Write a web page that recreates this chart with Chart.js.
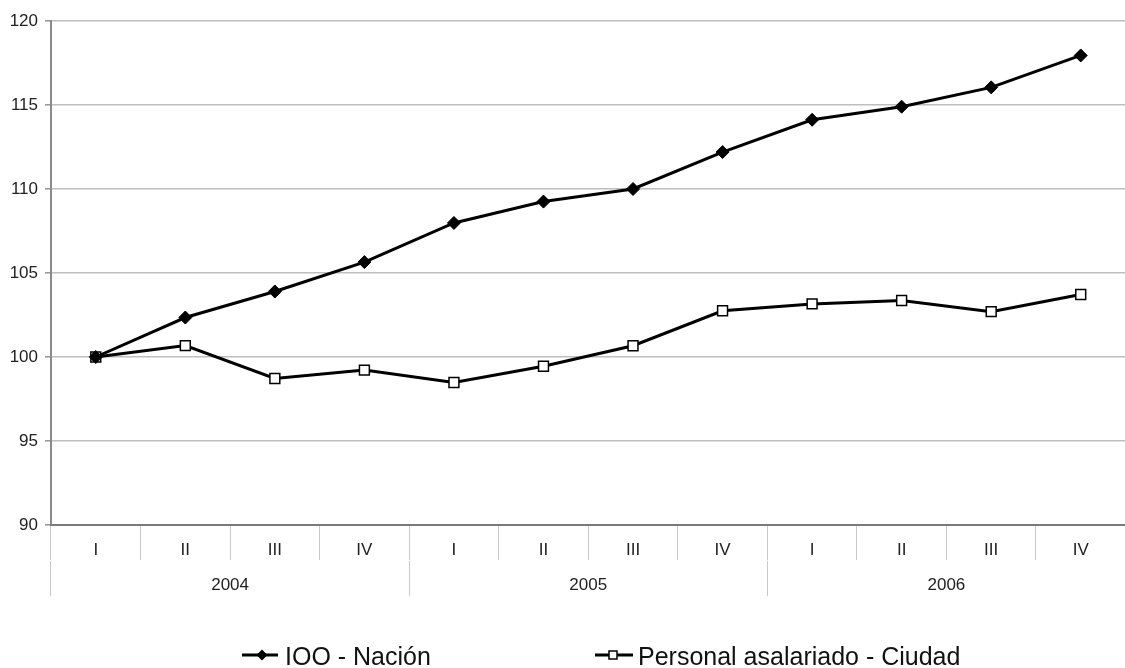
<!DOCTYPE html>
<html>
<head>
<meta charset="utf-8">
<script src="https://cdn.jsdelivr.net/npm/chart.js@4/dist/chart.umd.min.js"></script>
<style>
html,body{margin:0;padding:0;overflow:hidden;background:#fff;width:1125px;height:668px;}
#wrap{position:absolute;left:0;top:0;width:1134px;height:668px;}
.leg{position:absolute;font-family:"Liberation Sans",Arial,sans-serif;font-size:25px;line-height:30px;color:#111;white-space:nowrap;}
.legsvg{position:absolute;}
</style>
</head>
<body>
<div id="wrap"><canvas id="c" width="1134" height="668"></canvas></div>
<svg class="legsvg" style="left:240px;top:645px" width="42" height="20">
  <line x1="2" y1="10" x2="38" y2="10" stroke="#000" stroke-width="3"/>
  <polygon points="22,4.5 27.5,10 22,15.5 16.5,10" fill="#000"/>
</svg>
<div class="leg" style="left:285px;top:641px">IOO - Nación</div>
<svg class="legsvg" style="left:593px;top:645px" width="44" height="20">
  <line x1="2" y1="10" x2="40" y2="10" stroke="#000" stroke-width="3"/>
  <rect x="16" y="6" width="8" height="8" fill="#fff" stroke="#000" stroke-width="1.5"/>
</svg>
<div class="leg" style="left:638px;top:641px">Personal asalariado - Ciudad</div>
<script>
const quarters = ['I','II','III','IV','I','II','III','IV','I','II','III','IV'];
const years = ['2004','2005','2006'];
const yTicks = [90, 95, 100, 105, 110, 115, 120];
const iooNacion = [100, 102.35, 103.9, 105.65, 107.98, 109.25, 110.0, 112.2, 114.12, 114.9, 116.05, 117.95];
const personalCiudad = [100, 100.68, 98.72, 99.22, 98.48, 99.45, 100.67, 102.75, 103.16, 103.36, 102.7, 103.72];

const tickFont = {family: '"Liberation Sans", Arial, sans-serif', size: 17};

new Chart(document.getElementById('c'), {
  type: 'line',
  data: {
    labels: quarters,
    datasets: [
      {
        label: 'IOO - Nación',
        data: iooNacion,
        borderColor: '#000',
        backgroundColor: '#000',
        borderWidth: 3,
        pointStyle: 'rectRot',
        pointRadius: 6.5,
        pointBorderWidth: 1,
        pointBorderColor: '#000',
        pointBackgroundColor: '#000',
        tension: 0,
        fill: false
      },
      {
        label: 'Personal asalariado - Ciudad',
        data: personalCiudad,
        borderColor: '#000',
        backgroundColor: '#fff',
        borderWidth: 3,
        pointStyle: 'rect',
        pointRadius: 7,
        pointBorderWidth: 1.5,
        pointBorderColor: '#000',
        pointBackgroundColor: '#fff',
        tension: 0,
        fill: false
      }
    ]
  },
  options: {
    responsive: false,
    animation: false,
    events: [],
    layout: {padding: {left: 0, right: 0, top: 21, bottom: 72}},
    plugins: {legend: {display: false}, tooltip: {enabled: false}},
    scales: {
      y: {
        min: 90,
        max: 120,
        afterBuildTicks: (s) => { s.ticks = yTicks.map(v => ({value: v})); },
        afterFit: (s) => { s.width = 51; },
        ticks: {font: tickFont, color: '#222', padding: 7},
        grid: {color: '#bebebe', lineWidth: 1.6, tickLength: 6, tickColor: '#999'},
        border: {display: true, color: '#8a8a8a', width: 2}
      },
      x: {
        type: 'category',
        offset: true,
        afterFit: (s) => { s.height = 36; },
        ticks: {font: tickFont, color: '#222', padding: -20, maxRotation: 0, autoSkip: false},
        grid: {offset: true, drawOnChartArea: false, drawTicks: true, tickLength: 35, color: '#c8c8c8', lineWidth: 1},
        border: {display: true, color: '#7a7a7a', width: 2}
      },
      x2: {
        type: 'category',
        labels: years,
        position: 'bottom',
        offset: true,
        afterFit: (s) => { s.height = 35; },
        ticks: {font: tickFont, color: '#222', padding: -21, maxRotation: 0, autoSkip: false},
        grid: {offset: true, drawOnChartArea: false, drawTicks: true, tickLength: 35, color: '#c8c8c8', lineWidth: 1},
        border: {display: false}
      }
    }
  }
});
</script>
</body>
</html>
